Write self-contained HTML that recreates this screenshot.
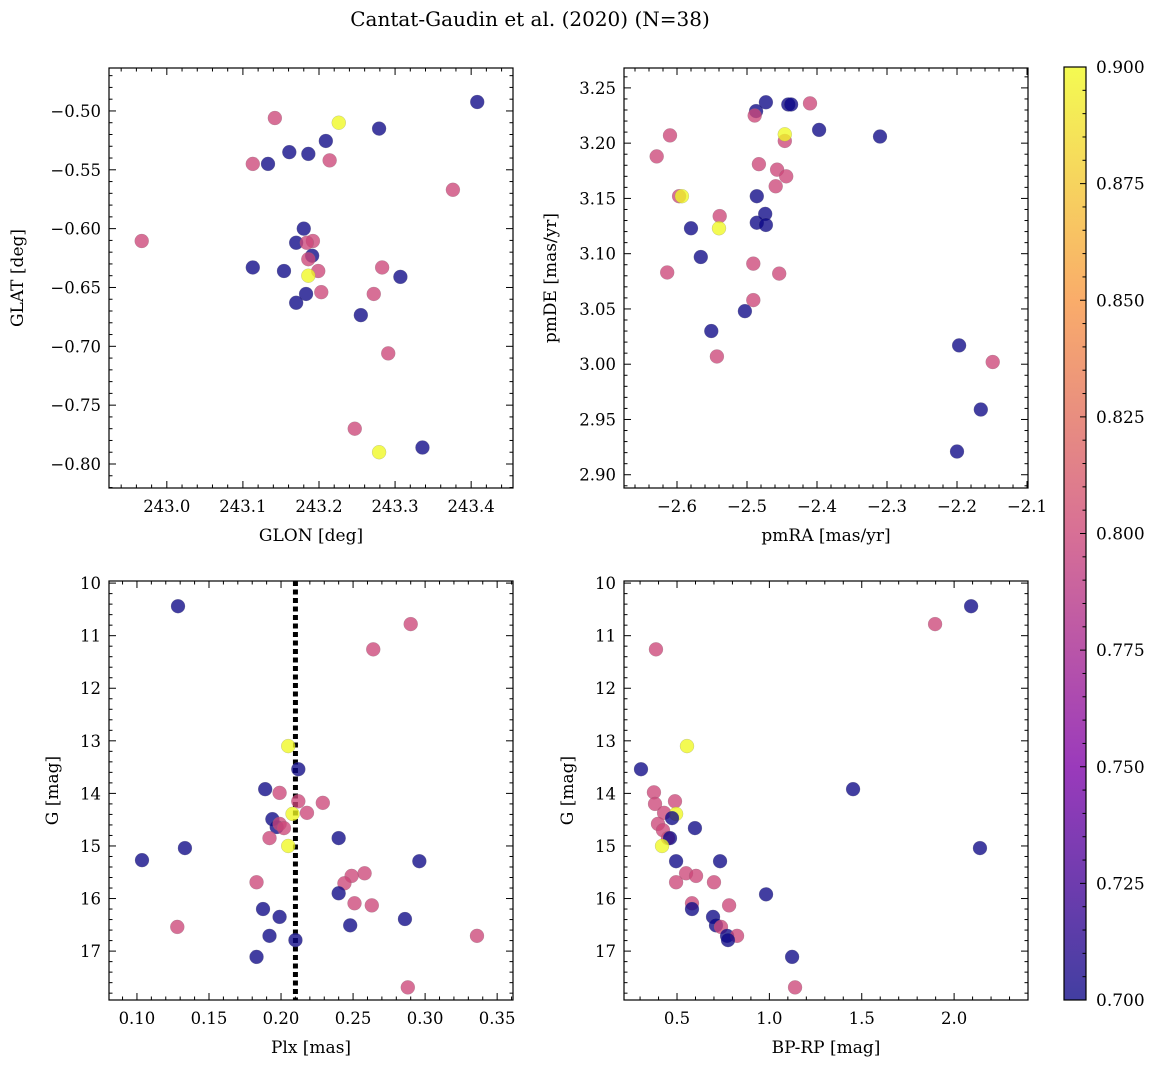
<!DOCTYPE html>
<html><head><meta charset="utf-8"><style>
body{margin:0;background:#fff;}
svg{display:block;font-family:"DejaVu Serif","Liberation Serif",serif;}
</style></head><body>
<svg id="fig" width="1161" height="1067" viewBox="0 0 1161 1067" xmlns="http://www.w3.org/2000/svg">
<defs>
<linearGradient id="plasma" x1="0" y1="1" x2="0" y2="0">
<stop offset="0" stop-color="#0d0887"/><stop offset="0.25" stop-color="#7e03a8"/><stop offset="0.5" stop-color="#cc4778"/><stop offset="0.75" stop-color="#f89540"/><stop offset="1" stop-color="#f0f921"/>
</linearGradient>
</defs>
<text x="530" y="26" text-anchor="middle" font-size="20">Cantat-Gaudin et al. (2020) (N=38)</text>
</svg>
<script>
// ---- data ----
const glon=[243.408,243.226,243.142,243.279,243.209,243.161,243.186,243.214,243.113,243.133,243.376,242.967,243.180,243.170,243.192,243.184,243.113,243.154,243.191,243.186,243.199,243.186,243.283,243.307,243.203,243.183,243.170,243.272,243.255,243.291,243.247,243.279,243.336];
const glat=[-0.4924,-0.510,-0.506,-0.515,-0.5255,-0.535,-0.5365,-0.542,-0.545,-0.545,-0.567,-0.6105,-0.600,-0.612,-0.6105,-0.612,-0.633,-0.636,-0.623,-0.626,-0.636,-0.640,-0.633,-0.641,-0.654,-0.6555,-0.663,-0.6555,-0.6735,-0.706,-0.770,-0.790,-0.786];
const cTL=[0.7,0.9,0.8,0.7,0.7,0.7,0.7,0.8,0.8,0.7,0.8,0.8,0.7,0.7,0.8,0.8,0.7,0.7,0.7,0.8,0.8,0.9,0.8,0.7,0.8,0.7,0.7,0.8,0.7,0.8,0.8,0.9,0.7];
const pmra=[-2.473,-2.487,-2.489,-2.441,-2.437,-2.410,-2.397,-2.610,-2.446,-2.446,-2.310,-2.629,-2.483,-2.457,-2.444,-2.459,-2.597,-2.593,-2.486,-2.539,-2.474,-2.486,-2.473,-2.580,-2.540,-2.566,-2.491,-2.614,-2.454,-2.491,-2.503,-2.551,-2.543,-2.197,-2.149,-2.166,-2.200];
const pmde=[3.237,3.229,3.225,3.235,3.235,3.236,3.212,3.207,3.202,3.208,3.206,3.188,3.181,3.176,3.170,3.161,3.152,3.152,3.152,3.134,3.136,3.128,3.126,3.123,3.123,3.097,3.091,3.083,3.082,3.058,3.048,3.030,3.007,3.017,3.002,2.959,2.921];
const cTR=[0.7,0.7,0.8,0.7,0.7,0.8,0.7,0.8,0.8,0.9,0.7,0.8,0.8,0.8,0.8,0.8,0.8,0.9,0.7,0.8,0.7,0.7,0.7,0.7,0.9,0.7,0.8,0.8,0.8,0.8,0.7,0.7,0.8,0.7,0.8,0.7,0.7];
const plx=[0.1285,0.290,0.264,0.205,0.212,0.189,0.199,0.212,0.229,0.208,0.218,0.194,0.197,0.199,0.202,0.192,0.240,0.205,0.1333,0.1035,0.296,0.258,0.249,0.244,0.183,0.240,0.251,0.263,0.1875,0.199,0.286,0.248,0.128,0.192,0.210,0.336,0.183,0.288];
const gmag=[10.44,10.78,11.26,13.10,13.54,13.92,13.99,14.15,14.18,14.39,14.37,14.49,14.64,14.58,14.66,14.85,14.85,15.00,15.04,15.27,15.29,15.52,15.57,15.71,15.69,15.90,16.09,16.13,16.20,16.35,16.39,16.51,16.54,16.71,16.79,16.71,17.11,17.69];
const cBL=[0.7,0.8,0.8,0.9,0.7,0.7,0.8,0.8,0.8,0.9,0.8,0.7,0.7,0.8,0.8,0.8,0.7,0.9,0.7,0.7,0.7,0.8,0.8,0.8,0.8,0.7,0.8,0.8,0.7,0.7,0.7,0.7,0.8,0.7,0.7,0.8,0.7,0.8];
const bprp=[2.092,1.897,0.386,0.554,0.305,1.453,0.375,0.489,0.381,0.430,0.495,0.397,0.473,0.597,0.424,0.451,0.462,0.419,2.140,0.495,0.733,0.549,0.603,0.495,0.700,0.982,0.581,0.782,0.581,0.695,0.711,0.738,0.771,0.825,0.776,1.123,1.139];
const gmag2=[10.44,10.78,11.26,13.10,13.54,13.92,13.98,14.15,14.20,14.37,14.39,14.58,14.47,14.66,14.70,14.85,14.85,15.00,15.04,15.29,15.29,15.52,15.57,15.69,15.69,15.92,16.09,16.13,16.20,16.35,16.51,16.54,16.71,16.71,16.79,17.11,17.69];
const cBR=[0.7,0.8,0.8,0.9,0.7,0.7,0.8,0.8,0.8,0.8,0.9,0.8,0.7,0.7,0.8,0.8,0.7,0.9,0.7,0.7,0.7,0.8,0.8,0.8,0.8,0.7,0.8,0.8,0.7,0.7,0.7,0.8,0.7,0.8,0.7,0.7,0.8];
const cbTicks=[0.700,0.725,0.750,0.775,0.800,0.825,0.850,0.875,0.900];
const plxLine=0.21;

const NS="http://www.w3.org/2000/svg";
const svg=document.getElementById('fig');
function mk(tag,attrs,parent){const e=document.createElementNS(NS,tag);for(const k in attrs)e.setAttribute(k,attrs[k]);(parent||svg).appendChild(e);return e;}
const stops=[[0,[13,8,135]],[0.25,[126,3,168]],[0.5,[204,71,120]],[0.75,[248,149,64]],[1,[240,249,33]]];
function plasma(v){let t=(v-0.7)/0.2;t=Math.max(0,Math.min(1,t));for(let i=0;i<stops.length-1;i++){const a=stops[i],b=stops[i+1];if(t<=b[0]){const f=(t-a[0])/(b[0]-a[0]);return 'rgb('+a[1].map((c,j)=>Math.round(c+(b[1][j]-c)*f)).join(',')+')';}}return 'rgb(240,249,33)';}
function fmt(v,d){const s=Math.abs(v).toFixed(d);return (v<-1e-9?'\u2212':'')+s;}

function panel(o){
  const g=mk('g',{});
  
  
  const X=v=>o.x0+(v-o.xmin)/(o.xmax-o.xmin)*(o.x1-o.x0);
  const Y=o.yinv?(v=>o.y0+(v-o.ymin)/(o.ymax-o.ymin)*(o.y1-o.y0)):(v=>o.y1-(v-o.ymin)/(o.ymax-o.ymin)*(o.y1-o.y0));
  const tg=mk('g',{stroke:'#000','stroke-width':1},g);
  for(let k=Math.ceil(o.xmin/o.xminor-1e-6);k*o.xminor<=o.xmax+1e-9;k++){
    const v=k*o.xminor,px=X(v);const major=Math.abs(v/o.xmajor-Math.round(v/o.xmajor))<1e-6;const L=major?7:3.5;
    mk('line',{x1:px,x2:px,y1:o.y1,y2:o.y1-L},tg);mk('line',{x1:px,x2:px,y1:o.y0,y2:o.y0+L},tg);
    if(major){const t=mk('text',{x:px,y:o.y1+24,'text-anchor':'middle','font-size':16.5,stroke:'none'},g);t.textContent=fmt(v,o.xd);
      }
  }
  for(let k=Math.ceil(Math.min(o.ymin,o.ymax)/o.yminor-1e-6);k*o.yminor<=Math.max(o.ymin,o.ymax)+1e-9;k++){
    const v=k*o.yminor,py=Y(v);const major=Math.abs(v/o.ymajor-Math.round(v/o.ymajor))<1e-6;const L=major?7:3.5;
    mk('line',{x1:o.x0,x2:o.x0+L,y1:py,y2:py},tg);mk('line',{x1:o.x1,x2:o.x1-L,y1:py,y2:py},tg);
    if(major){const t=mk('text',{x:o.x0-8,y:py+6,'text-anchor':'end','font-size':16.5,stroke:'none'},g);t.textContent=fmt(v,o.yd);
      }
  }
  if(o.vline!==undefined){const l=mk('line',{x1:X(o.vline),x2:X(o.vline),y1:o.y0,y2:o.y1,stroke:'#000','stroke-width':5,'stroke-dasharray':'5,3.5'},g);
    }
  o.xs.forEach((v,i)=>{const c=mk('circle',{cx:X(v),cy:Y(o.ys[i]),r:7,fill:plasma(o.cs[i]),'fill-opacity':0.78,stroke:'#777','stroke-width':0.4,'stroke-opacity':0.5},g);
    });
  const fr=mk('rect',{x:o.x0,y:o.y0,width:o.x1-o.x0,height:o.y1-o.y0,fill:'none',stroke:'#000','stroke-width':1.2},g);
  
  const xt=mk('text',{x:(o.x0+o.x1)/2,y:o.y1+53,'text-anchor':'middle','font-size':17},g);xt.textContent=o.xlabel;
  
  const yx=o.ylx,yy=(o.y0+o.y1)/2;
  const yt=mk('text',{x:yx,y:yy,'text-anchor':'middle','font-size':17,transform:'rotate(-90 '+yx+' '+yy+')'},g);yt.textContent=o.ylabel;
  
}
panel({name:'glon-glat-panel',x0:109,x1:513,y0:68,y1:488,xmin:242.924,xmax:243.455,ymin:-0.8204,ymax:-0.4635,xmajor:0.1,xminor:0.02,ymajor:0.05,yminor:0.01,xd:1,yd:2,xs:glon,ys:glat,cs:cTL,xlabel:'GLON [deg]',ylabel:'GLAT [deg]',ylx:23});
panel({name:'pm-panel',x0:624,x1:1028,y0:68,y1:488,xmin:-2.6757,xmax:-2.0986,ymin:2.888,ymax:3.268,xmajor:0.1,xminor:0.02,ymajor:0.05,yminor:0.01,xd:1,yd:2,xs:pmra,ys:pmde,cs:cTR,xlabel:'pmRA [mas/yr]',ylabel:'pmDE [mas/yr]',ylx:556});
panel({name:'plx-g-panel',x0:109,x1:513,y0:581,y1:1000,xmin:0.0806,xmax:0.361,ymin:9.96,ymax:17.93,yinv:true,xmajor:0.05,xminor:0.01,ymajor:1,yminor:0.2,xd:2,yd:0,xs:plx,ys:gmag,cs:cBL,xlabel:'Plx [mas]',ylabel:'G [mag]',ylx:58,vline:plxLine});
panel({name:'cmd-panel',x0:624,x1:1028,y0:581,y1:1000,xmin:0.213,xmax:2.40,ymin:9.96,ymax:17.93,yinv:true,xmajor:0.5,xminor:0.1,ymajor:1,yminor:0.2,xd:1,yd:0,xs:bprp,ys:gmag2,cs:cBR,xlabel:'BP-RP [mag]',ylabel:'G [mag]',ylx:573});
const cb=mk('g',{});


const cbT=67,cbB=1000,cbL=1064,cbR=1086;
mk('rect',{x:cbL,y:cbT,width:cbR-cbL,height:cbB-cbT,fill:'url(#plasma)','fill-opacity':0.78},cb);
const CY=v=>cbB-(v-0.7)/0.2*(cbB-cbT);
for(let k=140;k<=180;k++){const v=k*0.005;const major=k%5===0;mk('line',{x1:cbR,x2:cbR-(major?6:3.5),y1:CY(v),y2:CY(v),stroke:'#000'},cb);}
cbTicks.forEach(v=>{const t=mk('text',{x:cbR+10,y:CY(v)+6,'font-size':17},cb);t.textContent=v.toFixed(3);
  });
mk('rect',{x:cbL,y:cbT,width:cbR-cbL,height:cbB-cbT,fill:'none',stroke:'#000','stroke-width':1.2},cb);
</script>
</body></html>
